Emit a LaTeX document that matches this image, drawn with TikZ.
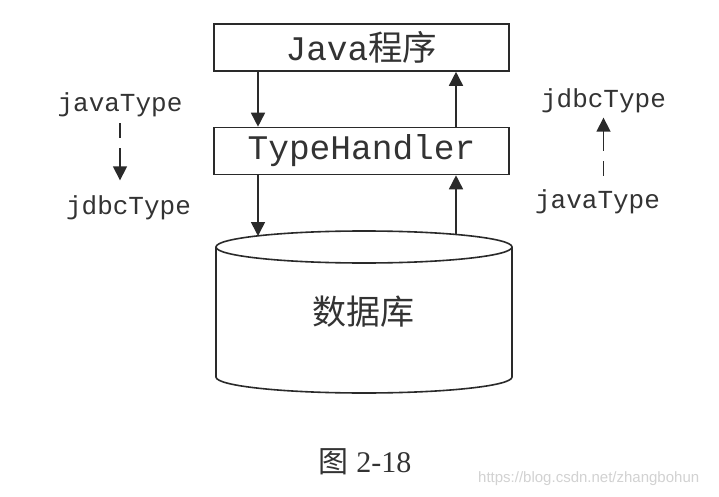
\documentclass[tikz,border=0pt]{standalone}
\usepackage{fontspec}
\setmainfont{Liberation Serif}
\setmonofont{Liberation Mono}
\newfontfamily\cjk{Noto Sans CJK SC}
\newfontfamily\wmfont{Liberation Sans}
\usetikzlibrary{arrows.meta}
\definecolor{ink}{HTML}{2A2A2A}
\definecolor{txt}{HTML}{333333}
\definecolor{wmgray}{HTML}{D2D2D2}
\begin{document}
\begin{tikzpicture}[x=1pt,y=-1pt,
  box/.style={draw=ink, line width=1.6pt, minimum width=295pt, minimum height=47pt, inner sep=0pt, text=txt, font=\fontsize{34.5}{34.5}\selectfont\ttfamily},
  lbl/.style={font=\fontsize{26}{26}\selectfont\ttfamily, text=txt, inner sep=0pt},
  arr/.style={draw=ink, line width=1.6pt, -{Triangle[length=14pt,width=14pt]}},
  darr/.style={arr, dash pattern=on 15pt off 10pt on 60pt off 10pt},
  cyl/.style={draw=ink, line width=1.6pt}]
\useasboundingbox (0,0) rectangle (719,497);
\fill[white] (0,0) rectangle (719,497);
% boxes
\node[box] (java) at (361.5,47.5) {Java{\cjk 程序}};
\node[box] (th) at (361.5,151) {TypeHandler};
% cylinder
\draw[cyl] (364,247) ellipse [x radius=148, y radius=16];
\draw[cyl] (216,247) -- (216,377) arc[start angle=180, end angle=0, x radius=148, y radius=16] -- (512,247);
\node[font=\cjk\fontsize{34}{34}\selectfont, text=txt] (db) at (363,312) {数据库};
\coordinate (dbl) at (258,236);
\coordinate (dbr) at (456,234.5);
\coordinate (lx) at (258,0);
\coordinate (rx) at (456,0);
% arrows between boxes
\draw[arr] (java.south -| lx) -- (th.north -| lx);
\draw[arr] (th.south -| lx) -- (dbl);
\draw[arr] (th.north -| rx) -- (java.south -| rx);
\draw[arr] (dbr) -- (th.south -| rx);
% side labels
\node[lbl] (jt1) at (120,105) {javaType};
\node[lbl] (jd1) at (128.5,208) {jdbcType};
\node[lbl] (jd2) at (603.5,101) {jdbcType};
\node[lbl] (jt2) at (597.5,202) {javaType};
\draw[darr] (jt1.south) ++(0,6) -- ++(0,57);
\draw[darr] (jt2.north -| jd2) ++(0,-14) -- ++(0,-58);
% caption
\node[font=\fontsize{30}{30}\selectfont, text=txt] (cap) at (365,462) {{\cjk 图} 2-18};
% watermark
\node[font=\wmfont\fontsize{15}{15}\selectfont, text=wmgray, anchor=west, inner sep=0pt] (wm) at (478,479) {https://blog.csdn.net/zhangbohun};
\end{tikzpicture}
\end{document}
